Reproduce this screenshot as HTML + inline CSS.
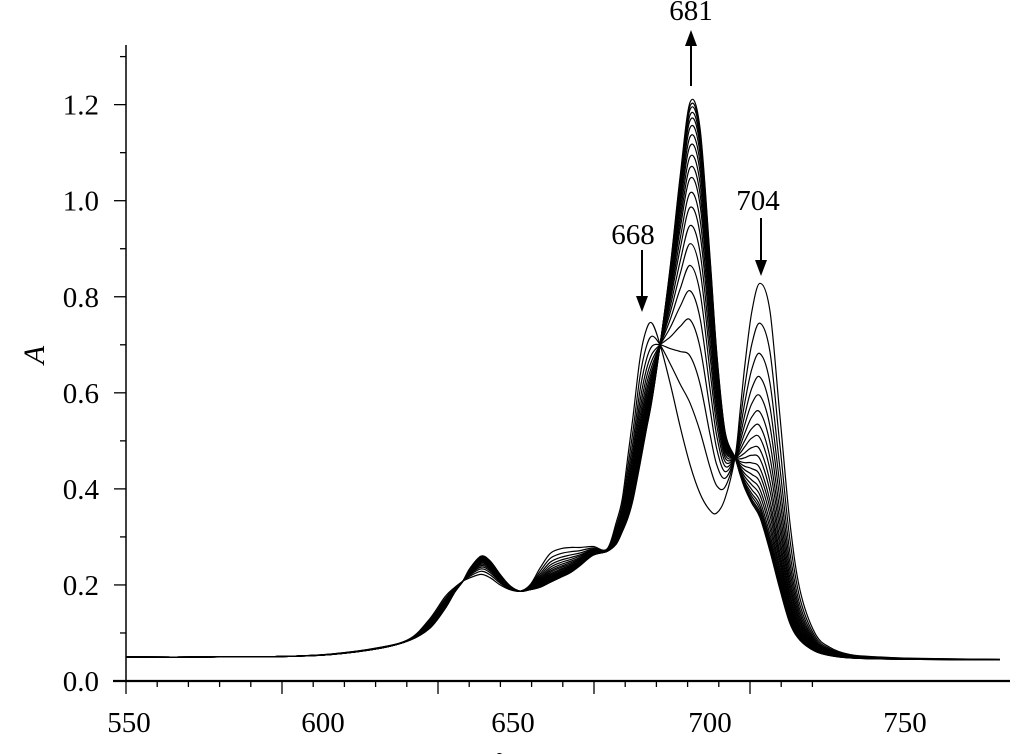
<!DOCTYPE html>
<html><head><meta charset="utf-8">
<style>
html,body{margin:0;padding:0;background:#fff;}
svg{display:block;}
text{font-family:"Liberation Serif",serif;fill:#000;}
</style></head>
<body>
<svg id="chart" width="1010" height="754" viewBox="0 0 1010 754" xmlns="http://www.w3.org/2000/svg">
  <g id="axes"></g>
  <g id="curves"></g>
  <g id="annotations">
    <text x="691" y="20" font-size="29" text-anchor="middle">681</text>
    <line x1="691" y1="86" x2="691" y2="44" stroke="#000" stroke-width="2"/>
    <polygon points="685,46 697,46 691,30" fill="#000"/>
    <text x="633" y="244" font-size="29" text-anchor="middle">668</text>
    <line x1="642" y1="250" x2="642" y2="298" stroke="#000" stroke-width="2"/>
    <polygon points="636,296 648,296 642,312" fill="#000"/>
    <text x="758" y="210" font-size="29" text-anchor="middle">704</text>
    <line x1="761" y1="218" x2="761" y2="262" stroke="#000" stroke-width="2"/>
    <polygon points="755,260 767,260 761,276" fill="#000"/>
  </g>
  <text x="0" y="0" font-size="30" font-style="italic" text-anchor="middle" transform="translate(44,355) rotate(-90)">A</text>
  <text x="503" y="774" font-size="30" text-anchor="middle">λ</text>
</svg>
<script>
// x-axis domain values (wavelength units on the drawn axis)
const wavelengths = [550.0,573.7,599.4,615.4,631.4,641.0,647.4,652.2,655.4,658.0,660.3,663.8,666.7,669.9,673.1,676.3,679.5,682.7,685.9,689.1,692.3,695.5,699.7,704.2,707.1,709.0,710.9,712.5,714.7,716.7,718.6,721.2,724.4,727.6,730.8,734.0,737.2,739.4,742.0,745.2,746.8,748.4,750.6,753.2,756.4,759.6,762.8,766.0,770.8,775.6,782.1,791.7,804.5,830.1];
// first spectrum (start of titration)
const firstSpectrum = [.050,.050,.051,.056,.070,.088,.13,.175,.195,.208,.215,.222,.215,.200,.190,.187,.200,.235,.265,.275,.278,.278,.280,.275,.33,.377,.47,.55,.67,.73,.745,.70,.62,.53,.45,.39,.355,.35,.38,.465,.56,.66,.77,.828,.77,.55,.33,.19,.10,.07,.055,.05,.047,.045];
// last spectrum (end of titration)
const lastSpectrum = [.050,.050,.051,.055,.068,.085,.11,.15,.185,.208,.235,.260,.250,.222,.198,.187,.190,.195,.205,.215,.225,.240,.262,.270,.285,.31,.34,.377,.45,.52,.585,.70,.86,1.05,1.205,1.15,.88,.68,.52,.465,.43,.40,.37,.34,.27,.19,.12,.085,.062,.053,.048,.046,.045,.044];
// conversion fraction of each recorded curve
const fractions = [0,0.17,0.30,0.40,0.48,0.55,0.61,0.66,0.71,0.75,0.79,0.82,0.85,0.88,0.905,0.93,0.95,0.965,0.98,0.99,1.0];
const xTickValues = [550,560,570,580,590,600,610,620,630,640,650,660,670,680,690,700,710,720,730,740,750,760,770];
const xTickLabels = ["550","600","650","700","750"];
const xTickLabelPx = [129,323,513,710,905];
const yTickValues = [0,0.1,0.2,0.3,0.4,0.5,0.6,0.7,0.8,0.9,1.0,1.1,1.2,1.3];
const yTickLabels = ["0.0","0.2","0.4","0.6","0.8","1.0","1.2"];

const NS = "http://www.w3.org/2000/svg";
function xScale(v){ return 126 + (v - 550) * 3.12; }
function yScale(a){ return 681 - a * 480.3; }
function mk(tag, attrs, parent){
  const e = document.createElementNS(NS, tag);
  for (const k in attrs) e.setAttribute(k, attrs[k]);
  parent.appendChild(e);
  return e;
}
const axes = document.getElementById('axes');
const curves = document.getElementById('curves');

const yAxis = mk('line', {x1:126, y1:45, x2:126, y2:682, stroke:'#000', 'stroke-width':1.5}, axes);


const xAxis = mk('line', {x1:113, y1:681, x2:1010, y2:681, stroke:'#000', 'stroke-width':2.2}, axes);



yTickValues.forEach((v, i) => {
  const major = i % 2 === 0;
  const y = yScale(v);
  const t = mk('line', {x1: major ? 114 : 120, y1:y, x2:126, y2:y, stroke:'#000', 'stroke-width':1.3}, axes);
  
  
  if (major && yTickLabels[i/2] !== undefined) {
    const lb = mk('text', {x:99, y:y + 10, 'font-size':29, 'text-anchor':'end'}, axes);
    lb.textContent = yTickLabels[i/2];
    
    
  }
});
xTickValues.forEach((v, i) => {
  const major = i % 5 === 0;
  const x = xScale(v);
  if (x > 1008) return;
  const t = mk('line', {x1:x, y1:681, x2:x, y2: major ? 694 : 687, stroke:'#000', 'stroke-width':1.3}, axes);
  
  
});
xTickLabels.forEach((s, i) => {
  const lb = mk('text', {x:xTickLabelPx[i], y:732, 'font-size':29, 'text-anchor':'middle'}, axes);
  lb.textContent = s;
  
  
});

function pathFrom(pts){
  let d = 'M' + pts[0][0].toFixed(1) + ',' + pts[0][1].toFixed(1);
  for (let i = 0; i < pts.length - 1; i++) {
    const p0 = pts[i-1] || pts[i], p1 = pts[i], p2 = pts[i+1], p3 = pts[i+2] || pts[i+1];
    const c1x = p1[0] + (p2[0]-p0[0])/6, c1y = p1[1] + (p2[1]-p0[1])/6;
    const c2x = p2[0] - (p3[0]-p1[0])/6, c2y = p2[1] - (p3[1]-p1[1])/6;
    d += 'C' + c1x.toFixed(1)+','+c1y.toFixed(1)+' '+c2x.toFixed(1)+','+c2y.toFixed(1)+' '+p2[0].toFixed(1)+','+p2[1].toFixed(1);
  }
  return d;
}
fractions.forEach((f, k) => {
  const pts = wavelengths.map((w, i) => [xScale(w), yScale(firstSpectrum[i]*(1-f) + lastSpectrum[i]*f)]);
  const p = mk('path', {d:pathFrom(pts), fill:'none', stroke:'#000', 'stroke-width':1.2}, curves);
  
  
});
</script>
</body></html>
